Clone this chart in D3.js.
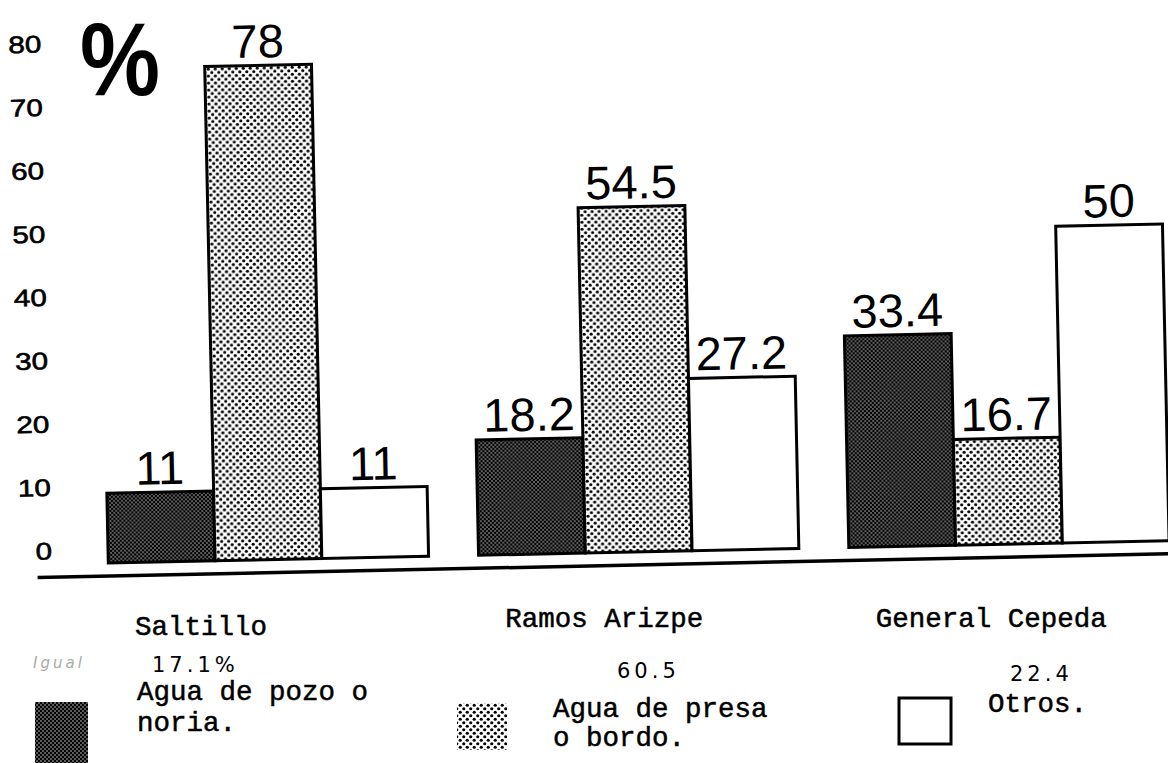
<!DOCTYPE html>
<html>
<head>
<meta charset="utf-8">
<script src="https://cdn.jsdelivr.net/npm/d3@7"></script>
<style>
  body { margin: 0; background: #fff; }
  svg { display: block; }
</style>
</head>
<body>
<div id="chart"></div>
<script>
// data
const categories = ["Saltillo", "Ramos Arizpe", "General Cepeda"];
const seriesKeys = ["pozo", "presa", "otros"];
const seriesLabels = [["Agua de pozo o", "noria."], ["Agua de presa", "o bordo."], ["Otros."]];
const pozo = [11, 18.2, 33.4];
const presa = [78, 54.5, 16.7];
const otros = [11, 27.2, 50];
const yTicks = [0, 10, 20, 30, 40, 50, 60, 70, 80];
const handNotes = ["17.1%", "60.5", "22.4"];
const faintNote = "Igual";

const width = 1168, height = 763;

const svg = d3.select("#chart").append("svg")
  .attr("width", width)
  .attr("height", height);

// halftone patterns of the scan
const defs = svg.append("defs");
const dark = defs.append("pattern").attr("id", "dark")
  .attr("patternUnits", "userSpaceOnUse").attr("width", 4).attr("height", 4);
dark.append("rect").attr("width", 4).attr("height", 4).attr("fill", "#000");
dark.append("circle").attr("cx", 1).attr("cy", 1).attr("r", 0.7).attr("fill", "#fff");
dark.append("circle").attr("cx", 3).attr("cy", 3).attr("r", 0.7).attr("fill", "#fff");

const light = defs.append("pattern").attr("id", "light")
  .attr("patternUnits", "userSpaceOnUse").attr("width", 7).attr("height", 7);
light.append("rect").attr("width", 7).attr("height", 7).attr("fill", "#fff");
light.append("circle").attr("cx", 1.75).attr("cy", 1.75).attr("r", 1.6).attr("fill", "#000");
light.append("circle").attr("cx", 5.25).attr("cy", 5.25).attr("r", 1.6).attr("fill", "#000");

const fills = { pozo: "url(#dark)", presa: "url(#light)", otros: "#fff" };

// the scan is slightly tilted
const g = svg.append("g").attr("transform", "rotate(-1.2,584,400)");

const x0 = d3.scaleBand().domain(categories).range([105, 1166]).paddingInner(0.135);
const x1 = d3.scaleBand().domain(seriesKeys).range([0, x0.bandwidth()]);
const y = d3.scaleLinear().domain([0, 80]).range([553, 46]);

const rows = categories.map((c, i) => ({
  cat: c,
  values: [
    { key: "pozo", v: pozo[i] },
    { key: "presa", v: presa[i] },
    { key: "otros", v: otros[i] }
  ]
}));

const groups = g.selectAll("g.grp")
  .data(rows)
  .join("g")
  .attr("class", "grp")
  .attr("transform", d => `translate(${x0(d.cat)},0)`);

groups.selectAll("rect")
  .data(d => d.values)
  .join("rect")
  .attr("x", d => x1(d.key))
  .attr("y", d => y(d.v))
  .attr("width", x1.bandwidth())
  .attr("height", d => y(0) - y(d.v))
  .attr("fill", d => fills[d.key])
  .attr("stroke", "#000")
  .attr("stroke-width", 3);

groups.selectAll("text.val")
  .data(d => d.values)
  .join("text")
  .attr("class", "val")
  .attr("x", d => x1(d.key) + x1.bandwidth() / 2)
  .attr("y", d => y(d.v) - 8)
  .attr("text-anchor", "middle")
  .style("font-family", "'Liberation Sans', Arial, sans-serif")
  .style("font-size", "47px")
  .style("fill", "#000")
  .text(d => d.v);

// y axis: only labels, no line
const yAxis = g.append("g")
  .attr("transform", "translate(49,0)")
  .call(d3.axisLeft(y).tickValues(yTicks).tickSize(0).tickPadding(0));
yAxis.select(".domain").remove();
yAxis.selectAll("text")
  .attr("y", -13)
  .attr("textLength", d => String(d).length * 16.5)
  .attr("lengthAdjust", "spacingAndGlyphs")
  .style("font-family", "'Liberation Sans', Arial, sans-serif")
  .style("font-size", "24px")
  .style("fill", "#000")
  .style("stroke", "#000")
  .style("stroke-width", 0.6);

// base line
g.append("line")
  .attr("x1", 34).attr("x2", 1200)
  .attr("y1", y(0) + 13).attr("y2", y(0) + 13)
  .attr("stroke", "#000")
  .attr("stroke-width", 3.5);

// big percent sign
svg.append("text")
  .attr("x", 80).attr("y", 95)
  .attr("textLength", 80)
  .attr("lengthAdjust", "spacingAndGlyphs")
  .style("font-family", "'Liberation Sans', Arial, sans-serif")
  .style("font-weight", "bold")
  .style("font-size", "104px")
  .text("%");

const mono = "'Courier New', 'Nimbus Mono PS', 'Liberation Mono', monospace";

// category names under the groups
const catY = [635, 627, 627];
svg.selectAll("text.cat")
  .data(categories)
  .join("text")
  .attr("class", "cat")
  .attr("x", d => x0(d) + 30)
  .attr("y", (d, i) => catY[i])
  .style("font-family", mono)
  .style("font-size", "27.5px")
  .style("stroke", "#000")
  .style("stroke-width", 0.5)
  .text(d => d);

// handwritten totals
const noteX = [152, 617, 1010], noteY = [672, 678, 681];
svg.selectAll("text.note")
  .data(handNotes)
  .join("text")
  .attr("class", "note")
  .attr("x", (d, i) => noteX[i])
  .attr("y", (d, i) => noteY[i])
  .style("font-family", "'DejaVu Sans', sans-serif")
  .style("font-size", "21px")
  .style("letter-spacing", "4px")
  .style("fill", "#000")
  .text(d => d);

svg.append("text")
  .attr("x", 33).attr("y", 668)
  .style("font-family", "'DejaVu Sans', sans-serif")
  .style("font-style", "italic")
  .style("font-size", "15px")
  .style("letter-spacing", "3px")
  .style("fill", "#aaa")
  .text(faintNote);

// legend
const legendBox = [
  { x: 35, y: 702, w: 53, h: 61, tx: 137, ty: 700, lh: 30.5 },
  { x: 457, y: 703, w: 50, h: 47, tx: 553, ty: 717, lh: 28.5 },
  { x: 899, y: 698, w: 52, h: 46, tx: 988, ty: 712, lh: 28 }
];
const legend = svg.selectAll("g.leg")
  .data(seriesKeys)
  .join("g")
  .attr("class", "leg");

legend.append("rect")
  .attr("x", (d, i) => legendBox[i].x)
  .attr("y", (d, i) => legendBox[i].y)
  .attr("width", (d, i) => legendBox[i].w)
  .attr("height", (d, i) => legendBox[i].h)
  .attr("fill", d => fills[d])
  .attr("stroke", d => d === "otros" ? "#000" : "none")
  .attr("stroke-width", 3);

legend.each(function(d, i) {
  const t = d3.select(this).append("text")
    .style("font-family", mono)
    .style("font-size", "27.5px")
    .style("stroke", "#000")
    .style("stroke-width", 0.5);
  seriesLabels[i].forEach((line, j) => {
    t.append("tspan")
      .attr("x", legendBox[i].tx)
      .attr("y", legendBox[i].ty + j * legendBox[i].lh)
      .text(line);
  });
});
</script>
</body>
</html>
